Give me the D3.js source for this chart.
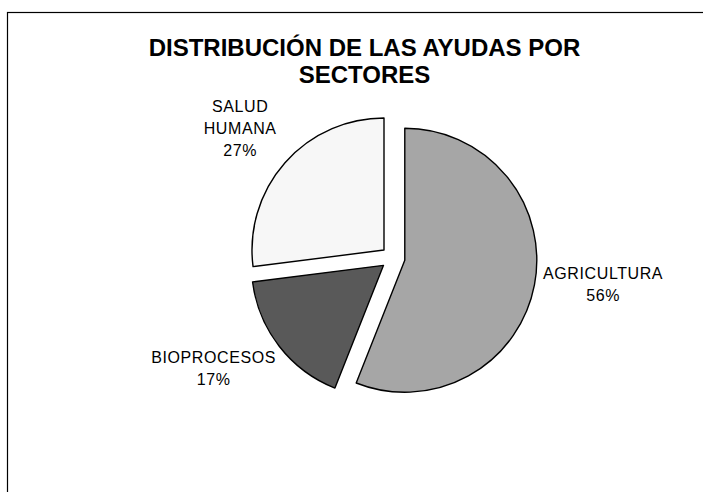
<!DOCTYPE html>
<html>
<head>
<meta charset="utf-8">
<script src="https://cdn.jsdelivr.net/npm/d3@7"></script>
<style>
  body { margin: 0; background: #fff; }
  svg { display: block; font-family: "Liberation Sans", Arial, sans-serif; }
</style>
</head>
<body>
<div id="chart"></div>
<script>
// data
var sectors = ["AGRICULTURA", "BIOPROCESOS", "SALUD HUMANA"];
var labelLines = [["AGRICULTURA"], ["BIOPROCESOS"], ["SALUD", "HUMANA"]];
var values = [56, 17, 27];
var fills = ["#a6a6a6", "#595959", "#f7f7f7"];
var titleLines = ["DISTRIBUCIÓN DE LAS AYUDAS POR", "SECTORES"];

var width = 703, height = 492;
var cx = 393, cy = 258, radius = 132, explode = 12, labelR = 150, lh = 22;
// small hand nudges of the data labels, [dx, dy]
var nudge = [[-8, -8], [-2, -3], [-4, -1]];

var svg = d3.select("#chart").append("svg")
  .attr("width", width)
  .attr("height", height);

// outer frame (right and bottom edge run off the page)
svg.append("rect")
  .attr("x", 7.5).attr("y", 12.5)
  .attr("width", 720).attr("height", 500)
  .attr("fill", "none")
  .attr("stroke", "#000")
  .attr("stroke-width", 1.2);

// title
svg.append("text")
  .attr("x", 364.5)
  .attr("text-anchor", "middle")
  .attr("font-weight", "bold")
  .attr("font-size", 24)
  .selectAll("tspan")
  .data(titleLines)
  .enter().append("tspan")
    .attr("x", 364.5)
    .attr("y", function(d, i) { return 55.5 + i * 27.7; })
    .text(function(d) { return d; });

var total = d3.sum(values);
var pie = d3.pie().sort(null).startAngle(0).endAngle(2 * Math.PI);
var arcs = pie(values);
var arc = d3.arc().innerRadius(0).outerRadius(radius);

function mid(d) { return (d.startAngle + d.endAngle) / 2; }

var g = svg.append("g").attr("transform", "translate(" + cx + "," + cy + ")");

var slices = g.selectAll("g.slice")
  .data(arcs)
  .enter().append("g")
    .attr("class", "slice")
    .attr("transform", function(d) {
      var a = mid(d);
      return "translate(" + (explode * Math.sin(a)) + "," + (-explode * Math.cos(a)) + ")";
    });

slices.append("path")
  .attr("d", arc)
  .attr("fill", function(d, i) { return fills[i]; })
  .attr("stroke", "#000")
  .attr("stroke-width", 1.4)
  .attr("stroke-linejoin", "round");

// data labels: name lines + percentage, placed just outside the slice end
slices.each(function(d, i) {
  var a = mid(d);
  var s = Math.sin(a), c = -Math.cos(a);
  var lines = labelLines[i].concat([Math.round(values[i] / total * 100) + "%"]);
  var t = d3.select(this).append("text")
    .attr("text-anchor", "middle")
    .attr("font-size", 16)
    .attr("letter-spacing", 0.6)
    .attr("fill", "#000");
  var spans = t.selectAll("tspan")
    .data(lines)
    .enter().append("tspan")
      .text(function(l) { return l; });
  var w = d3.max(spans.nodes(), function(n) { return n.getComputedTextLength(); });
  var h = lines.length * lh;
  var mx = labelR * s + s * w / 2 + nudge[i][0];
  var my = labelR * c + c * h / 2 + nudge[i][1];
  spans
    .attr("x", mx)
    .attr("y", function(l, k) { return my + (k - (lines.length - 1) / 2) * lh + 6; });
});
</script>
</body>
</html>
